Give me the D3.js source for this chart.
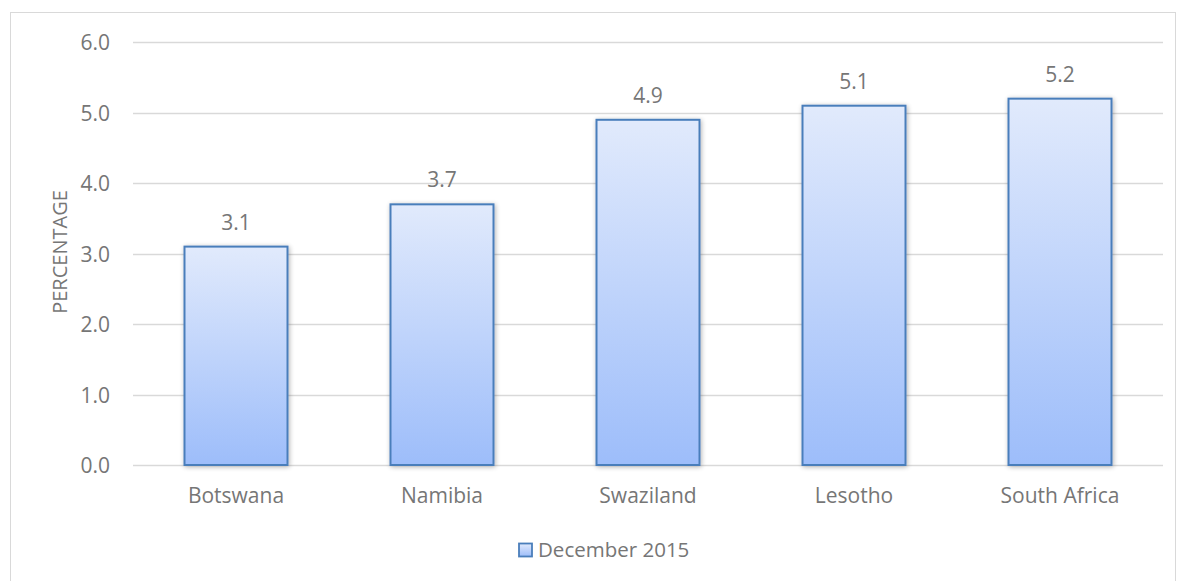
<!DOCTYPE html>
<html><head><meta charset="utf-8">
<script src="https://cdn.jsdelivr.net/npm/d3@7"></script>
<style>body{margin:0;background:#fff;}svg{display:block;}text{font-family:"Open Sans","Liberation Sans",sans-serif;}</style>
</head><body>
<svg id="c" width="1178" height="581"></svg>
<script>
const categories = ["Botswana","Namibia","Swaziland","Lesotho","South Africa"];
const values = [3.1,3.7,4.9,5.1,5.2];
const yTicks = [0,1,2,3,4,5,6];
const seriesName = "December 2015";
const yTitle = "PERCENTAGE";

const FONT='"Open Sans","Liberation Sans",sans-serif';
const TXT="#767676";
const svg = d3.select("#c");
svg.append("rect").attr("x",10.5).attr("y",12.5).attr("width",1165).attr("height",590)
  .attr("fill","#fff").attr("stroke","#d9d9d9").attr("stroke-width",1);

const m={l:133,r:1163,t:42.3,b:465};
const x=d3.scaleBand().domain(categories).range([m.l,m.r]).paddingInner(0.5).paddingOuter(0.25);
const y=d3.scaleLinear().domain([0,6]).range([m.b,m.t]);

const defs=svg.append("defs");
const g=defs.append("linearGradient").attr("id","bg").attr("x1",0).attr("y1",0).attr("x2",0).attr("y2",1);
g.append("stop").attr("offset","0%").attr("stop-color","#e1eafc");
g.append("stop").attr("offset","100%").attr("stop-color","#9dbdfa");
const f=defs.append("filter").attr("id","sh").attr("x","-20%").attr("y","-20%").attr("width","140%").attr("height","140%");
f.append("feGaussianBlur").attr("in","SourceAlpha").attr("stdDeviation",2.5).attr("result","b");
f.append("feOffset").attr("in","b").attr("dx",1).attr("dy",1).attr("result","o");
f.append("feComponentTransfer").attr("in","o").attr("result","o2").append("feFuncA").attr("type","linear").attr("slope",0.3);
const fm=f.append("feMerge");fm.append("feMergeNode").attr("in","o2");fm.append("feMergeNode").attr("in","SourceGraphic");

// gridlines
svg.append("g").selectAll("line").data(yTicks).join("line")
  .attr("x1",m.l).attr("x2",m.r).attr("y1",d=>Math.round(y(d))+0.5).attr("y2",d=>Math.round(y(d))+0.5)
  .attr("stroke","#d9d9d9").attr("stroke-width",1.3);

// y axis labels
const ya=svg.append("g").attr("transform",`translate(110,0)`)
  .call(d3.axisLeft(y).tickValues(yTicks).tickFormat(d3.format(".1f")).tickSize(0).tickPadding(0));
ya.select(".domain").remove();
ya.attr("font-size",null).attr("font-family",null);
ya.selectAll("text").attr("fill",TXT).attr("dy","0.36em").style("font-size","21px").style("font-family",FONT);

// bars
svg.append("g").selectAll("rect").data(values).join("rect")
  .attr("x",(d,i)=>x(categories[i])).attr("width",x.bandwidth())
  .attr("y",d=>y(d)).attr("height",d=>y(0)-y(d))
  .attr("fill","url(#bg)").attr("stroke","#4a7ebb").attr("stroke-width",2)
  .attr("filter","url(#sh)");

// value labels
svg.append("g").selectAll("text").data(values).join("text")
  .attr("x",(d,i)=>x(categories[i])+x.bandwidth()/2).attr("y",d=>y(d)-17)
  .attr("text-anchor","middle").attr("fill",TXT).style("font-size","21px")
  .text(d=>d3.format(".1f")(d));

// x axis
const xa=svg.append("g").attr("transform",`translate(0,${m.b})`)
  .call(d3.axisBottom(x).tickSize(0).tickPadding(0));
xa.select(".domain").remove();
xa.attr("font-size",null).attr("font-family",null);
xa.selectAll("text").attr("fill",TXT).attr("dy",null).attr("y",38).style("font-size","21px").style("font-family",FONT);

// y title
svg.append("text").attr("transform","translate(67,252) rotate(-90)").attr("text-anchor","middle")
  .attr("fill",TXT).style("font-size","20px").text(yTitle);

// legend
const lg=svg.append("g");
lg.append("rect").attr("x",519).attr("y",543.5).attr("width",13).attr("height",13)
  .attr("fill","url(#bg)").attr("stroke","#4a7ebb").attr("stroke-width",1.8);
lg.append("text").attr("x",538).attr("y",557).attr("fill",TXT).style("font-size","20.5px").text(seriesName);
</script>
</body></html>
